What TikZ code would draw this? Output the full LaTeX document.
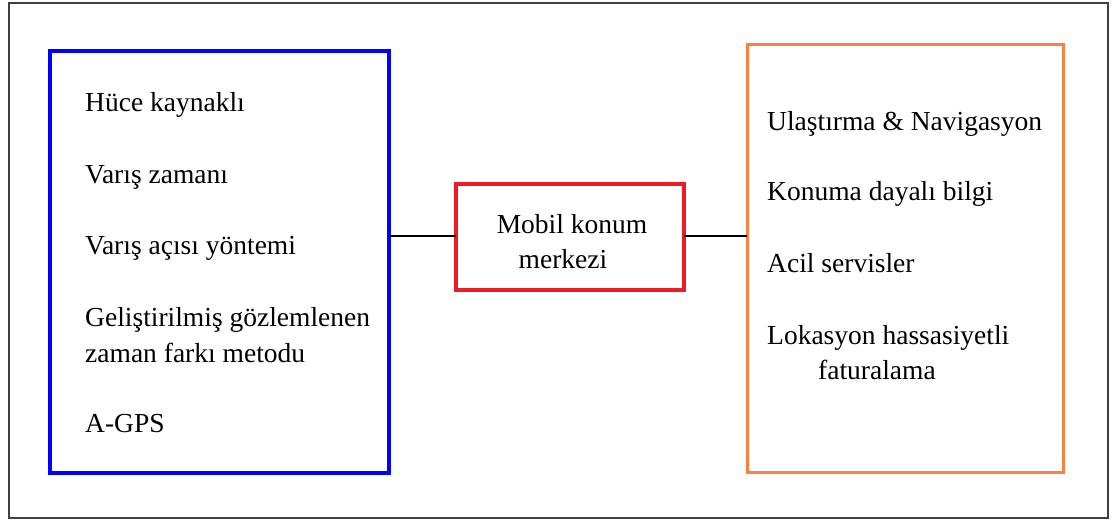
\documentclass[tikz,border=0pt]{standalone}
\usepackage{fontspec}
\setmainfont{Liberation Serif}
\definecolor{frameGray}{RGB}{64,64,64}
\definecolor{techBlue}{RGB}{0,0,255}
\definecolor{hubRed}{RGB}{237,28,36}
\definecolor{appOrange}{RGB}{255,127,64}
\begin{document}
\begin{tikzpicture}[x=1pt,y=-1pt,
  panel/.style={draw,rectangle,inner sep=0pt,outer sep=0pt},
  item/.style={anchor=base west,inner sep=0pt,font=\fontsize{27.5}{35}\selectfont},
  link/.style={draw=black,line width=1.2pt}]
\useasboundingbox (0,0) rectangle (1112,520);
% outer frame
\node[panel,draw=frameGray,line width=1.6pt,minimum width=1099pt,minimum height=515pt] (frame) at (558.5,260.5) {};
% three panels
\node[panel,draw=techBlue,line width=3.2pt,minimum width=339pt,minimum height=422pt] (tech) at (219.5,262) {};
\node[panel,draw=hubRed,line width=4.2pt,minimum width=228pt,minimum height=106pt] (hub) at (570,237) {};
\node[panel,draw=appOrange,line width=3pt,minimum width=316pt,minimum height=428pt] (apps) at (905,258) {};
% connectors
\draw[link] (hub.west |- 0,236) coordinate (hl) -- (tech.east |- hl);
\draw[link] (hub.east |- 0,236) coordinate (hr) -- (apps.west |- hr);
% positioning techniques
\node[item] (t1) at (85,111) {Hüce kaynaklı};
\node[item] (t2) at (85,183) {Varış zamanı};
\node[item] (t3) at (85,254) {Varış açısı yöntemi};
\node[item] (t4) at (85,326) {Geliştirilmiş gözlemlenen};
\node[item] (t4b) at (85,362) {zaman farkı metodu};
\node[item] (t5) at (85,432) {A-GPS};
% centre label
\node[item,anchor=base] (h1) at (572,233) {Mobil konum};
\node[item,anchor=base] (h2) at (563,268) {merkezi};
% services
\node[item] (s1) at (767,130) {Ulaştırma \& Navigasyon};
\node[item] (s2) at (767,200) {Konuma dayalı bilgi};
\node[item] (s3) at (767,272) {Acil servisler};
\node[item] (s4) at (767,344) {Lokasyon hassasiyetli};
\node[item] (s4b) at (818,379) {faturalama};
\end{tikzpicture}
\end{document}
